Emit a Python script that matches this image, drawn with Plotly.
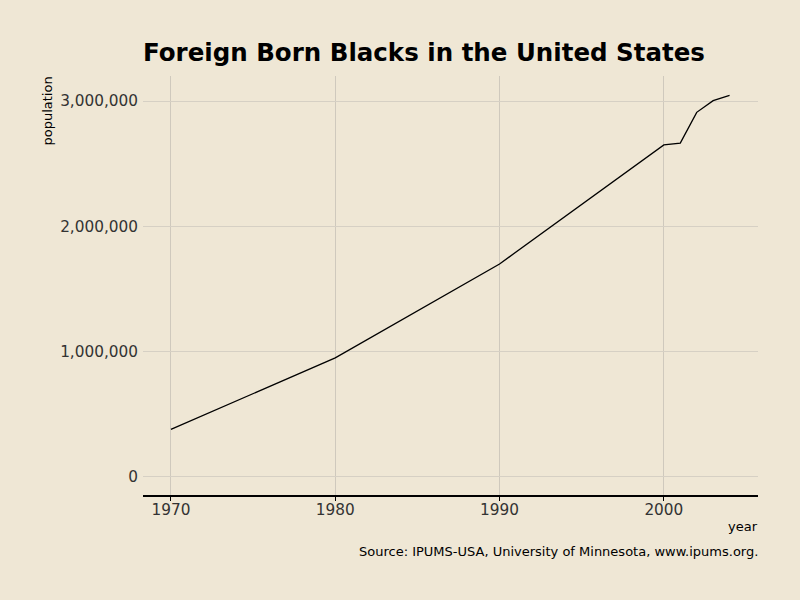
import plotly.graph_objects as go

years = [1970, 1980, 1990, 2000, 2001, 2002, 2003, 2004]
population = [380000, 950000, 1700000, 2650000, 2665000, 2910000, 3003000, 3045000]
y_ticks = [0, 1000000, 2000000, 3000000]
y_labels = ["0", "1,000,000", "2,000,000", "3,000,000"]
x_ticks = [1970, 1980, 1990, 2000]

bg = "#efe7d5"
L, R, T, B = 143, 758, 76, 495
def px(x): return (x - L) / (R - L)
def py(y): return (B - y) / (B - T)

fig = go.Figure()
fig.add_trace(go.Scatter(x=years, y=population, mode="lines",
                         line=dict(color="black", width=1.3), hoverinfo="skip"))

fig.update_layout(
    width=800, height=600,
    paper_bgcolor=bg, plot_bgcolor=bg,
    margin=dict(l=L, r=800 - R, t=T, b=600 - B),
    showlegend=False,
    font=dict(family="DejaVu Sans", color="#333333"),
    title=dict(text="<b>Foreign Born Blacks in the United States</b>",
               x=L/800, xanchor="left", y=1-52/600, yanchor="middle",
               font=dict(size=24.5, color="black", family="DejaVu Sans")),
    xaxis=dict(range=[1968.3, 2005.73], tickvals=x_ticks,
               showgrid=True, gridcolor="#cfc9bd", gridwidth=1,
               showline=True, linecolor="black", linewidth=1.5,
               ticks="outside", ticklen=4, tickcolor="black",
               ticklabelstandoff=-4,
               tickfont=dict(size=15.3, color="#333333"), zeroline=False),
    yaxis=dict(range=[-144000, 3200000], tickvals=y_ticks, ticktext=y_labels,
               showgrid=True, gridcolor="#d6d0c4", gridwidth=1,
               showline=False, zeroline=False, ticks="",
               ticklabelstandoff=4,
               tickfont=dict(size=15.3, color="#333333")),
    annotations=[
        dict(text="population", x=px(47), y=py(75), xref="paper", yref="paper",
             xanchor="center", yanchor="top", textangle=-90, showarrow=False,
             font=dict(size=13, color="black")),
        dict(text="year", x=1, y=py(526), xref="paper", yref="paper",
             xanchor="right", yanchor="middle", showarrow=False, xshift=2,
             font=dict(size=13, color="black")),
        dict(text="Source: IPUMS-USA, University of Minnesota, www.ipums.org.",
             x=1, y=py(551), xref="paper", yref="paper",
             xanchor="right", yanchor="middle", showarrow=False, xshift=2,
             font=dict(size=13, color="black")),
    ],
)
fig.write_html("out.html")
